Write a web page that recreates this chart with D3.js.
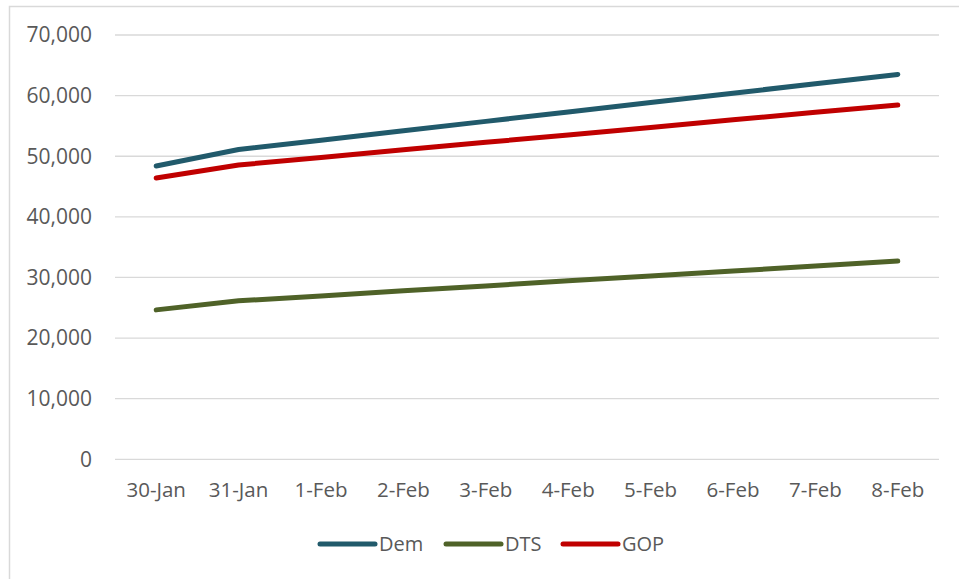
<!DOCTYPE html>
<html>
<head>
<meta charset="utf-8">
<title>line chart</title>
<script src="https://cdn.jsdelivr.net/npm/d3@7"></script>
<style>
  body { margin: 0; background: #fff; }
  text { font-family: "Open Sans", sans-serif; fill: #595959; }
</style>
</head>
<body>
<script>
// data
var days = ["30-Jan","31-Jan","1-Feb","2-Feb","3-Feb","4-Feb","5-Feb","6-Feb","7-Feb","8-Feb"]
var dem = [48400, 51100, 52650, 54200, 55750, 57300, 58850, 60400, 61950, 63500]
var dts = [24650, 26150, 26950, 27800, 28600, 29450, 30250, 31050, 31900, 32700]
var gop = [46400, 48550, 49800, 51050, 52300, 53500, 54750, 56000, 57250, 58450]
var yTicks = [0, 10000, 20000, 30000, 40000, 50000, 60000, 70000]

var series = [
  {name: "Dem", values: dem, color: "#215a6b"},
  {name: "DTS", values: dts, color: "#4f6228"},
  {name: "GOP", values: gop, color: "#c00000"}
]

var w = 959, h = 579
var svg = d3.select("body").append("svg").attr("width", w).attr("height", h)

// chart frame (only top and left edges show)
svg.append("rect")
  .attr("x", 9.5).attr("y", 6.5)
  .attr("width", w + 20).attr("height", h + 20)
  .attr("fill", "none").attr("stroke", "#d9d9d9").attr("stroke-width", 1.5)

var x = d3.scaleBand().domain(days).range([115, 939])
var y = d3.scaleLinear().domain([0, 70000]).range([459.3, 35])

// gridlines
svg.selectAll(".grid")
  .data(yTicks)
  .enter()
  .append("line")
  .attr("class", "grid")
  .attr("x1", 115).attr("x2", 939)
  .attr("y1", function(d){ return y(d) })
  .attr("y2", function(d){ return y(d) })
  .attr("stroke", "#d9d9d9").attr("stroke-width", 1.3)

// y axis labels
var fmt = d3.format(",")
svg.selectAll(".ylab")
  .data(yTicks)
  .enter()
  .append("text")
  .attr("class", "ylab")
  .attr("x", 92)
  .attr("y", function(d){ return y(d) })
  .attr("dy", "0.35em")
  .attr("text-anchor", "end")
  .style("font-size", "21px")
  .text(function(d){ return fmt(d) })

// x axis labels
svg.selectAll(".xlab")
  .data(days)
  .enter()
  .append("text")
  .attr("class", "xlab")
  .attr("x", function(d){ return x(d) + x.bandwidth()/2 })
  .attr("y", 490)
  .attr("dy", "0.35em")
  .attr("text-anchor", "middle")
  .style("font-size", "20.5px")
  .text(function(d){ return d })

var line = d3.line()
  .x(function(d, i){ return x(days[i]) + x.bandwidth()/2 })
  .y(function(d){ return y(d) })

svg.selectAll(".series")
  .data(series)
  .enter()
  .append("path")
  .attr("class", "series")
  .attr("d", function(s){ return line(s.values) })
  .attr("fill", "none")
  .attr("stroke", function(s){ return s.color })
  .attr("stroke-width", 5)
  .attr("stroke-linecap", "round")
  .attr("stroke-linejoin", "round")

// legend
var legX = [320, 446, 563]
var leg = svg.selectAll(".leg")
  .data(series)
  .enter()
  .append("g")
  .attr("class", "leg")
  .attr("transform", function(d, i){ return "translate(" + legX[i] + ",544)" })

leg.append("line")
  .attr("x1", 0).attr("x2", 55)
  .attr("stroke", function(d){ return d.color })
  .attr("stroke-width", 5)
  .attr("stroke-linecap", "round")

leg.append("text")
  .attr("x", 59)
  .attr("dy", "0.35em")
  .style("font-size", "20px")
  .text(function(d){ return d.name })
</script>
</body>
</html>
